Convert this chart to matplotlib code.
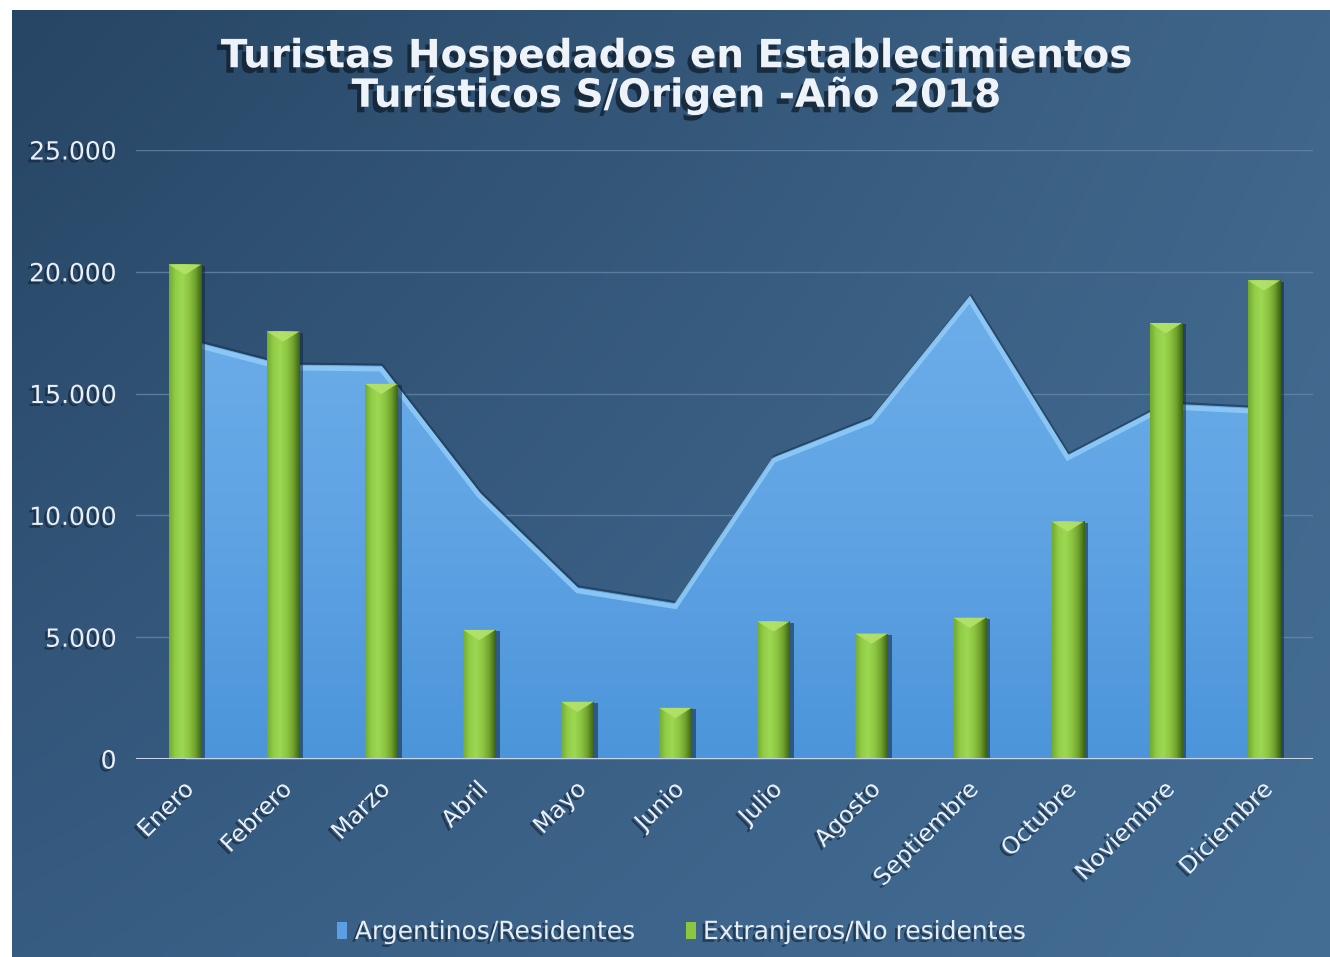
import numpy as np
import matplotlib
matplotlib.use("Agg")
import matplotlib.pyplot as plt
import matplotlib.patheffects as pe
from matplotlib.patches import Patch, Polygon
from matplotlib.colors import LinearSegmentedColormap
from matplotlib.transforms import ScaledTranslation

# ---------------- data ----------------
months = ["Enero", "Febrero", "Marzo", "Abril", "Mayo", "Junio", "Julio",
          "Agosto", "Septiembre", "Octubre", "Noviembre", "Diciembre"]
argentinos = [17250, 16200, 16150, 10950, 7050, 6400, 12400, 14000, 19000, 12500, 14600, 14400]
extranjeros = [20300, 17550, 15400, 5300, 2350, 2100, 5650, 5150, 5800, 9750, 17900, 19650]
yticks = [0, 5000, 10000, 15000, 20000, 25000]
ytick_labels = ["0", "5.000", "10.000", "15.000", "20.000", "25.000"]
series_names = ["Argentinos/Residentes", "Extranjeros/No residentes"]
title = "Turistas Hospedados en Establecimientos\nTurísticos S/Origen -Año 2018"

W, H = 1330, 957
fig = plt.figure(figsize=(W / 100, H / 100), dpi=100)
fig.patch.set_facecolor("white")

# ---------------- background gradient ----------------
bg = fig.add_axes([12 / W, 0, 1 - 12 / W, 1 - 10 / H])
bg.set_axis_off()
c_tl = np.array([0x27, 0x45, 0x64]) / 255
c_tr = np.array([0x3f, 0x66, 0x8a]) / 255
c_bl = np.array([0x37, 0x5c, 0x82]) / 255
c_br = np.array([0x45, 0x6e, 0x95]) / 255
ny, nx = 100, 140
u = np.linspace(0, 1, nx)[None, :, None]
v = np.linspace(0, 1, ny)[:, None, None]
img = (1 - u) * (1 - v) * c_tl + u * (1 - v) * c_tr + (1 - u) * v * c_bl + u * v * c_br
bg.imshow(img, aspect="auto", extent=[0, 1, 0, 1], origin="upper", interpolation="bicubic")
bg.set_xlim(0, 1)
bg.set_ylim(0, 1)

# ---------------- main axes ----------------
ax = fig.add_axes([136 / W, 198 / H, (1313 - 136) / W, (759 - 150) / H])
ax.set_facecolor("none")
for s in ax.spines.values():
    s.set_visible(False)
x = np.arange(len(months))
ax.set_xlim(-0.5, len(months) - 0.5)
ax.set_ylim(0, 25000)

# gridlines
for yt in yticks[1:]:
    ax.axhline(yt, color="#6486a8", lw=1.0, alpha=0.8, zorder=0)

shadow_txt = [pe.withSimplePatchShadow(offset=(-2, -2), shadow_rgbFace="#10202f", alpha=0.6)]

# ---------------- area (Argentinos) ----------------
area = ax.fill_between(x, argentinos, 0, color="#5b9fe2", lw=0, zorder=1)
area_cmap = LinearSegmentedColormap.from_list("area", ["#4c95da", "#60a4e4", "#6eafea"])
grad = np.linspace(0, 1, 256)[:, None]
im = ax.imshow(grad, aspect="auto", cmap=area_cmap, origin="lower",
               extent=[-0.5, len(months) - 0.5, 0, 20000], zorder=1.1)
im.set_clip_path(area.get_paths()[0], transform=ax.transData)
# bevel on the top edge
ax.plot(x, argentinos, color="#1c3350", lw=1.5, alpha=0.6, zorder=1.2,
        transform=ax.transData + ScaledTranslation(0.01, 0.01, fig.dpi_scale_trans))
ax.plot(x, argentinos, color="#8fcaf6", lw=3.5, alpha=0.9, zorder=1.3, solid_joinstyle="miter",
        transform=ax.transData + ScaledTranslation(0, -0.035, fig.dpi_scale_trans))

# ---------------- bars (Extranjeros) ----------------
bar_w = 0.33
bars = ax.bar(x, extranjeros, width=bar_w, color="#8cc63f", zorder=3,
              path_effects=[pe.SimplePatchShadow(offset=(3, -1), shadow_rgbFace="#13263a", alpha=0.55),
                            pe.Normal()])
bar_cmap = LinearSegmentedColormap.from_list(
    "bar", ["#72aa2e", "#92cd48", "#9cd852", "#8ec742", "#71a22e", "#3a6212"])
hgrad = np.linspace(0, 1, 256)[None, :]
cap_depth = 420
for p in bars:
    x0, w, h = p.get_x(), p.get_width(), p.get_height()
    bim = ax.imshow(hgrad, aspect="auto", cmap=bar_cmap, extent=[x0, x0 + w, 0, h], zorder=3.1)
    bim.set_clip_path(p)
    tri = Polygon([[x0, h], [x0 + w, h], [x0 + w / 2, h - cap_depth]], closed=True,
                  facecolor="#b4e26c", edgecolor="none", alpha=0.9, zorder=3.2)
    ax.add_patch(tri)
ax.set_xlim(-0.5, len(months) - 0.5)
ax.set_ylim(0, 25000)

# baseline
ax.axhline(0, color="#c5d5e6", lw=2.2, zorder=4)

# ---------------- ticks ----------------
ax.set_yticks(yticks)
ax.set_yticklabels(ytick_labels)
ax.tick_params(axis="y", length=0, pad=14, labelsize=18, labelcolor="#e8eff7")
ax.set_xticks(x)
ax.set_xticklabels(months)
ax.tick_params(axis="x", length=0, pad=19, labelsize=17, labelcolor="#e8eff7")
off = ScaledTranslation(0.05, 0, fig.dpi_scale_trans)
for lab in ax.get_xticklabels():
    lab.set_rotation(45)
    lab.set_ha("right")
    lab.set_va("center")
    lab.set_rotation_mode("anchor")
    lab.set_transform(lab.get_transform() + off)
    lab.set_path_effects(shadow_txt)
for lab in ax.get_yticklabels():
    lab.set_path_effects(shadow_txt)

# ---------------- title ----------------
fig.text(676 / W, 1 - 76 / H, title, ha="center", va="center", fontsize=28,
         fontweight="bold", color="#eef3f9", linespacing=1.0,
         path_effects=[pe.withSimplePatchShadow(offset=(-3, -4), shadow_rgbFace="#0d1a26", alpha=0.7)])

# ---------------- legend ----------------
handles = [Patch(facecolor="#5b9fe2", edgecolor="none"), Patch(facecolor="#8cc63f", edgecolor="none")]
leg = fig.legend(handles, series_names, loc="center", bbox_to_anchor=(682 / W, 25 / H),
                 ncol=2, frameon=False, fontsize=18, handlelength=0.4, handleheight=0.7,
                 handletextpad=0.3, columnspacing=2.0)
for t in leg.get_texts():
    t.set_color("#e6eef6")
    t.set_path_effects(shadow_txt)

fig.savefig("out.png", dpi=100, facecolor=fig.get_facecolor())
